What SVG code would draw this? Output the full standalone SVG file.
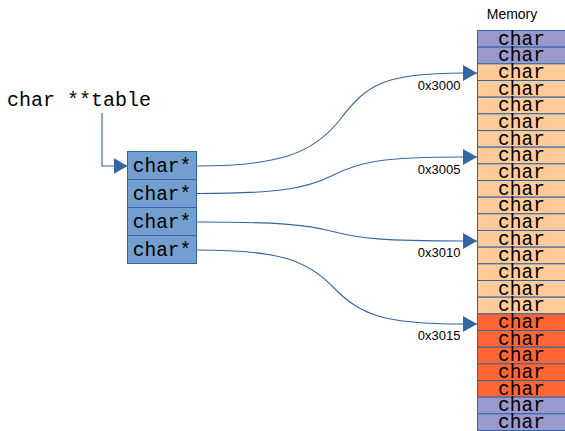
<svg xmlns="http://www.w3.org/2000/svg" width="565" height="431" viewBox="0 0 565 431">
  <style>
    .mono { font-family: "Liberation Mono", "Courier New", monospace; fill: #000; }
    .cell { font-size: 19.5px; text-anchor: middle; }
    .sans { font-family: "Liberation Sans", Arial, sans-serif; fill: #000; }
    .addr { font-size: 13px; text-anchor: end; }
    .mem rect { stroke: #3465a4; stroke-width: 1; }
    .lav { fill: #9999cc; }
    .peach { fill: #ffcc99; }
    .red { fill: #ff6633; }
    .ptr rect { fill: #729fcf; stroke: #3465a4; stroke-width: 1; }
    .conn path { fill: none; stroke: #3465a4; stroke-width: 1.1; marker-end: url(#head); }
  </style>
  <defs>
    <marker id="head" markerUnits="userSpaceOnUse" markerWidth="14" markerHeight="16" refX="14" refY="8" orient="auto" viewBox="0 0 14 16">
      <path d="M0,0 L14,8 L0,16 Z" fill="#3465a4"/>
    </marker>
  </defs>

  <rect width="565" height="431" fill="#ffffff"/>

  <!-- variable name -->
  <g id="table-var">
    <text class="mono" x="7" y="106" font-size="20">char **table</text>
  </g>

  <!-- array of char pointers -->
  <g id="pointer-array" class="ptr">
    <rect x="127.5" y="151.5" width="69" height="28"/>
    <rect x="127.5" y="179.5" width="69" height="28"/>
    <rect x="127.5" y="207.5" width="69" height="28"/>
    <rect x="127.5" y="235.5" width="69" height="28"/>
    <text class="mono cell" x="162" y="171.5">char*</text>
    <text class="mono cell" x="162" y="199.5">char*</text>
    <text class="mono cell" x="162" y="227.5">char*</text>
    <text class="mono cell" x="162" y="255.5">char*</text>
  </g>

  <!-- memory column -->
  <g id="memory">
    <text class="sans" x="512" y="19" font-size="14" text-anchor="middle">Memory</text>
    <g class="mem">
      <rect class="lav" x="477.5" y="30.5" width="90" height="16.67"/>
      <rect class="lav" x="477.5" y="47.17" width="90" height="16.67"/>
      <rect class="peach" x="477.5" y="63.83" width="90" height="16.67"/>
      <rect class="peach" x="477.5" y="80.5" width="90" height="16.67"/>
      <rect class="peach" x="477.5" y="97.17" width="90" height="16.67"/>
      <rect class="peach" x="477.5" y="113.83" width="90" height="16.67"/>
      <rect class="peach" x="477.5" y="130.5" width="90" height="16.67"/>
      <rect class="peach" x="477.5" y="147.17" width="90" height="16.67"/>
      <rect class="peach" x="477.5" y="163.83" width="90" height="16.67"/>
      <rect class="peach" x="477.5" y="180.5" width="90" height="16.67"/>
      <rect class="peach" x="477.5" y="197.17" width="90" height="16.67"/>
      <rect class="peach" x="477.5" y="213.83" width="90" height="16.67"/>
      <rect class="peach" x="477.5" y="230.5" width="90" height="16.67"/>
      <rect class="peach" x="477.5" y="247.17" width="90" height="16.67"/>
      <rect class="peach" x="477.5" y="263.83" width="90" height="16.67"/>
      <rect class="peach" x="477.5" y="280.5" width="90" height="16.67"/>
      <rect class="peach" x="477.5" y="297.17" width="90" height="16.67"/>
      <rect class="red" x="477.5" y="313.83" width="90" height="16.67"/>
      <rect class="red" x="477.5" y="330.5" width="90" height="16.67"/>
      <rect class="red" x="477.5" y="347.17" width="90" height="16.67"/>
      <rect class="red" x="477.5" y="363.83" width="90" height="16.67"/>
      <rect class="red" x="477.5" y="380.5" width="90" height="16.67"/>
      <rect class="lav" x="477.5" y="397.17" width="90" height="16.67"/>
      <rect class="lav" x="477.5" y="413.83" width="90" height="16.67"/>
    </g>
    <g class="mono cell">
      <text x="521.5" y="44.5">char</text>
      <text x="521.5" y="61.17">char</text>
      <text x="521.5" y="77.83">char</text>
      <text x="521.5" y="94.5">char</text>
      <text x="521.5" y="111.17">char</text>
      <text x="521.5" y="127.83">char</text>
      <text x="521.5" y="144.5">char</text>
      <text x="521.5" y="161.17">char</text>
      <text x="521.5" y="177.83">char</text>
      <text x="521.5" y="194.5">char</text>
      <text x="521.5" y="211.17">char</text>
      <text x="521.5" y="227.83">char</text>
      <text x="521.5" y="244.5">char</text>
      <text x="521.5" y="261.17">char</text>
      <text x="521.5" y="277.83">char</text>
      <text x="521.5" y="294.5">char</text>
      <text x="521.5" y="311.17">char</text>
      <text x="521.5" y="327.83">char</text>
      <text x="521.5" y="344.5">char</text>
      <text x="521.5" y="361.17">char</text>
      <text x="521.5" y="377.83">char</text>
      <text x="521.5" y="394.5">char</text>
      <text x="521.5" y="411.17">char</text>
      <text x="521.5" y="427.83">char</text>
    </g>
  </g>

  <!-- connectors -->
  <g id="connectors" class="conn">
    <path d="M102,113 V166 H127.5"/>
    <path d="M197,166 C277,166 313,154.4 340,119.5 C367,84.6 383,73 463,73 L477,73"/>
    <path d="M197,193.5 C277,193.5 306,188.9 333,175.25 C360,161.6 383,157 463,157 L477,157"/>
    <path d="M197,222 C277,222 306,224.4 333,231.5 C360,238.6 383,241 463,241 L477,241"/>
    <path d="M197,250 C277,250 306,259.25 333,287 C360,314.75 383,324 463,324 L477,324"/>
  </g>

  <!-- address labels -->
  <g id="addresses" class="sans addr">
    <text x="460.5" y="89.5">0x3000</text>
    <text x="460.5" y="173.5">0x3005</text>
    <text x="460.5" y="256.5">0x3010</text>
    <text x="460.5" y="339.5">0x3015</text>
  </g>
</svg>
